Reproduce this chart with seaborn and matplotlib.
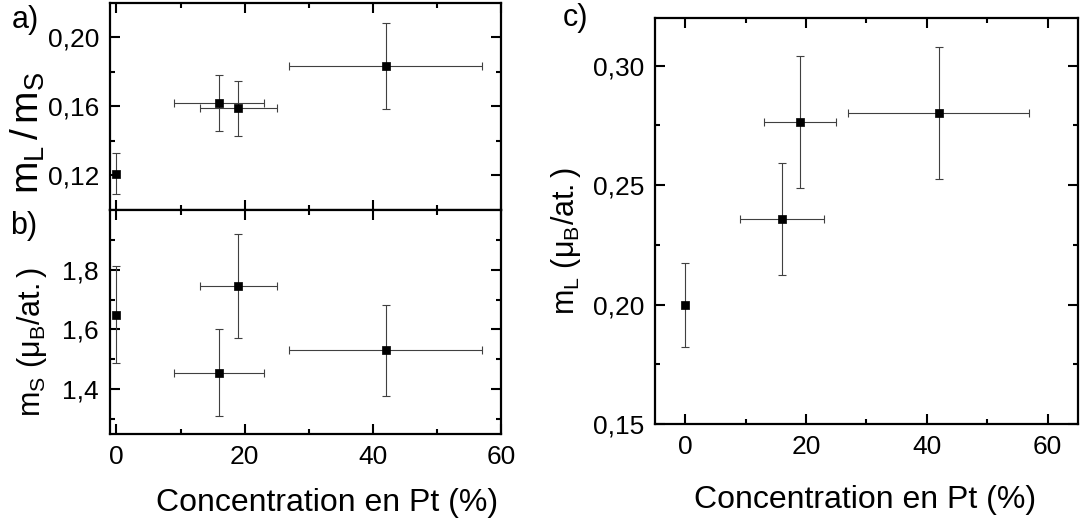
import numpy as np
import pandas as pd
import matplotlib
matplotlib.use("Agg")
import matplotlib.pyplot as plt
import seaborn as sns
from matplotlib.ticker import FixedLocator, MultipleLocator, FuncFormatter

# concentration en Pt (%) and its uncertainty
conc = [0, 16, 19, 42]
conc_err = [0, 7, 6, 15]

# a) ratio mL/mS
ratio = [0.121, 0.162, 0.159, 0.1835]
ratio_err = [0.012, 0.016, 0.016, 0.025]

# b) spin moment mS (muB/at.)
ms = [1.650, 1.455, 1.746, 1.530]
ms_err = [0.163, 0.145, 0.175, 0.153]

# c) orbital moment mL (muB/at.)
ml = [0.200, 0.2358, 0.2766, 0.2802]
ml_err = [0.0176, 0.0235, 0.0277, 0.0277]

sns.set_theme(style="ticks")
plt.rcParams["font.family"] = ["Liberation Sans", "DejaVu Sans"]
plt.rcParams["mathtext.fontset"] = "custom"
plt.rcParams["mathtext.rm"] = "Liberation Sans"
plt.rcParams["mathtext.it"] = "Liberation Sans"
plt.rcParams["text.color"] = "black"
plt.rcParams["axes.labelcolor"] = "black"

fig = plt.figure(figsize=(10.87, 5.25), dpi=100)
ax_a = fig.add_axes([0.1012, 0.6, 0.3597, 0.3943])
ax_b = fig.add_axes([0.1012, 0.1733, 0.3597, 0.4267])
ax_c = fig.add_axes([0.6026, 0.1924, 0.3889, 0.7733])


def draw_points(ax, x, xerr, y, yerr):
    ax.errorbar(x, y, xerr=xerr, yerr=yerr, fmt="none", ecolor="0.25",
                elinewidth=0.8, capsize=3, capthick=0.8, zorder=2)
    sns.scatterplot(x=x, y=y, marker="s", s=32, color="black",
                    edgecolor="black", linewidth=0.5, zorder=3, ax=ax)


def style_axes(ax, xlim, ylim, ymaj, ymin, yfmt):
    ax.set_xlim(*xlim)
    ax.set_ylim(*ylim)
    ax.xaxis.set_major_locator(MultipleLocator(20))
    ax.xaxis.set_minor_locator(MultipleLocator(10))
    ax.yaxis.set_major_locator(FixedLocator(ymaj))
    ax.yaxis.set_minor_locator(FixedLocator(ymin))
    ax.yaxis.set_major_formatter(FuncFormatter(lambda v, p: yfmt.format(v).replace(".", ",")))
    ax.tick_params(which="both", direction="in", top=True, right=True,
                   width=1.5, labelsize=19, pad=8, colors="black")
    ax.tick_params(which="major", length=7)
    ax.tick_params(which="minor", length=3.5)
    for sp in ax.spines.values():
        sp.set_linewidth(1.6)
        sp.set_color("black")


draw_points(ax_a, conc, conc_err, ratio, ratio_err)
style_axes(ax_a, (-1, 60), (0.10, 0.22), [0.12, 0.16, 0.20], [0.14, 0.18], "{:.2f}")
ax_a.tick_params(labelbottom=False)
ax_a.set_ylabel(r"$\mathregular{m_L\,/\,m_S}$", fontsize=28, va="center")
ax_a.yaxis.set_label_coords(-0.21, 0.37)

draw_points(ax_b, conc, conc_err, ms, ms_err)
style_axes(ax_b, (-1, 60), (1.25, 2.0), [1.4, 1.6, 1.8], [1.3, 1.5, 1.7, 1.9], "{:.1f}")
ax_b.set_ylabel(r"$\mathregular{m_S\ (μ_B/at.)}$", fontsize=22, va="center")
ax_b.yaxis.set_label_coords(-0.2, 0.41)
ax_b.set_xlabel("Concentration en Pt (%)", fontsize=23, va="center")
ax_b.xaxis.set_label_coords(0.555, -0.31)

draw_points(ax_c, conc, conc_err, ml, ml_err)
style_axes(ax_c, (-5, 65), (0.15, 0.32), [0.15, 0.20, 0.25, 0.30],
           [0.175, 0.225, 0.275], "{:.2f}")
ax_c.set_ylabel(r"$\mathregular{m_L\ (μ_B/at.)}$", fontsize=22, va="center")
ax_c.yaxis.set_label_coords(-0.21, 0.45)
ax_c.set_xlabel("Concentration en Pt (%)", fontsize=23, va="center")
ax_c.xaxis.set_label_coords(0.497, -0.187)

fig.text(12 / 1087, 1 - 5 / 525, "a)", fontsize=22, ha="left", va="top")
fig.text(10 / 1087, 1 - 211 / 525, "b)", fontsize=22, ha="left", va="top")
fig.text(563 / 1087, 1 - 3 / 525, "c)", fontsize=22, ha="left", va="top")

fig.savefig("out.png", dpi=100)
